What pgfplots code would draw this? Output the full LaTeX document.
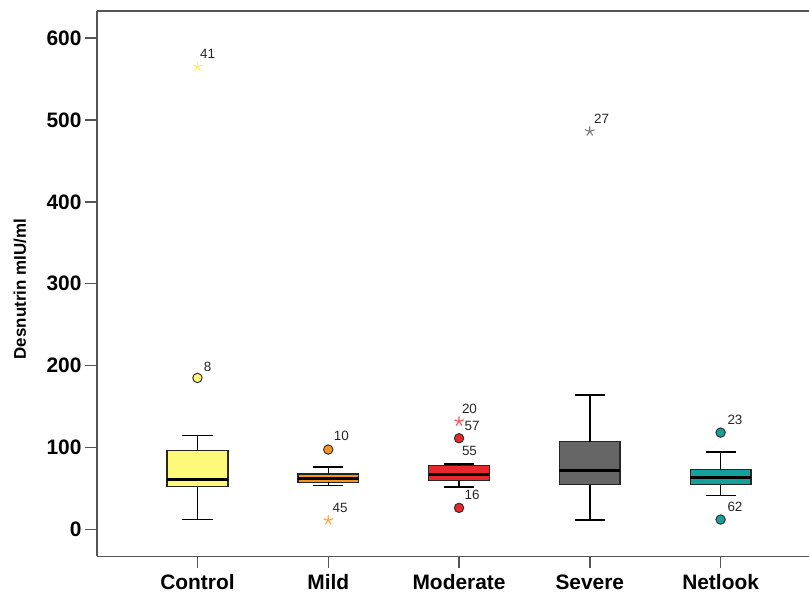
\documentclass[border=0pt]{standalone}
\usepackage{fontspec}
\setmainfont{Liberation Sans}
\usepackage{pgfplots}
\pgfplotsset{compat=1.18}
\definecolor{cctrl}{RGB}{255,249,122}
\definecolor{cmild}{RGB}{247,148,29}
\definecolor{cmod}{RGB}{232,40,44}
\definecolor{csev}{RGB}{102,102,102}
\definecolor{cnet}{RGB}{20,160,155}
\definecolor{axgray}{RGB}{85,85,85}
\begin{document}
\begin{tikzpicture}
\begin{axis}[
  scale only axis,
  width=713bp, height=546bp,
  xmin=-0.769, xmax=4.678,
  ymin=-32.9, ymax=632.9,
  axis x line*=bottom, axis y line*=left,
  axis line style={axgray, line width=1.5bp},
  tick style={axgray, line width=1.5bp},
  tick align=outside,
  major tick length=12bp,
  xtick={0,1,2,3,4},
  xticklabels={Control,Mild,Moderate,Severe,Netlook},
  ytick={0,100,200,300,400,500,600},
  /pgf/number format/assume math mode=true,
  tick label style={font=\bfseries\fontsize{21}{24}\selectfont},
  xticklabel style={yshift=-2.5bp},
  ylabel={Desnutrin mIU/ml},
  ylabel style={font=\bfseries\fontsize{17}{20}\selectfont, at={(axis description cs:-0.108,0.49)}, anchor=center},
  unbounded coords=jump,
]
% boxes (Q1 to Q3)
\addplot[fill=cctrl, draw=black!85, line width=1.4bp] coordinates {(-0.232,52.4) (0.232,52.4) (0.232,96.3) (-0.232,96.3)} -- cycle;
\addplot[fill=cmild, draw=black!85, line width=1.4bp] coordinates {(0.768,57.7) (1.232,57.7) (1.232,67.9) (0.768,67.9)} -- cycle;
\addplot[fill=cmod, draw=black!85, line width=1.4bp] coordinates {(1.768,59.8) (2.232,59.8) (2.232,78) (1.768,78)} -- cycle;
\addplot[fill=csev, draw=black!85, line width=1.4bp] coordinates {(2.768,54.9) (3.232,54.9) (3.232,107.3) (2.768,107.3)} -- cycle;
\addplot[fill=cnet, draw=black!85, line width=1.4bp] coordinates {(3.768,54.9) (4.232,54.9) (4.232,73.2) (3.768,73.2)} -- cycle;
% whiskers and caps
\addplot[black, line width=1.4bp, mark=none] coordinates {
 (0,96.3) (0,115) (0,nan) (-0.115,115) (0.115,115) (0,nan)
 (0,52.4) (0,12.2) (0,nan) (-0.115,12.2) (0.115,12.2) (0,nan)
 (1,67.9) (1,76.5) (1,nan) (0.885,76.5) (1.115,76.5) (1,nan)
 (1,57.7) (1,53.4) (1,nan) (0.885,53.4) (1.115,53.4) (1,nan)
 (2,78) (2,80.1) (2,nan) (1.885,80.1) (2.115,80.1) (2,nan)
 (2,59.8) (2,52) (2,nan) (1.885,52) (2.115,52) (2,nan)
 (3,107.3) (3,164.3) (3,nan) (2.885,164.3) (3.115,164.3) (3,nan)
 (3,54.9) (3,11.8) (3,nan) (2.885,11.8) (3.115,11.8) (3,nan)
 (4,73.2) (4,94.8) (4,nan) (3.885,94.8) (4.115,94.8) (4,nan)
 (4,54.9) (4,41.5) (4,nan) (3.885,41.5) (4.115,41.5)
};
% medians
\addplot[black, line width=3bp, mark=none] coordinates {
 (-0.232,61) (0.232,61) (0,nan)
 (0.768,62.6) (1.232,62.6) (1,nan)
 (1.768,67) (2.232,67) (2,nan)
 (2.768,72.3) (3.232,72.3) (3,nan)
 (3.768,63) (4.232,63)
};
% outlier circles
\addplot[only marks, mark=*, mark size=4.7bp, mark options={fill=cctrl, draw=black!80, line width=1bp}] coordinates {(0,185)};
\addplot[only marks, mark=*, mark size=4.7bp, mark options={fill=cmild, draw=black!80, line width=1bp}] coordinates {(1,97.6)};
\addplot[only marks, mark=*, mark size=4.7bp, mark options={fill=cmod, draw=black!80, line width=1bp}] coordinates {(2,111.4) (2,26.4)};
\addplot[only marks, mark=*, mark size=4.7bp, mark options={fill=cnet, draw=black!80, line width=1bp}] coordinates {(4,118.3) (4,12.2)};
% extreme stars
\addplot[only marks, mark=star, mark size=5bp, color=cctrl!90!orange, mark options={line width=1.2bp}] coordinates {(0,565)};
\addplot[only marks, mark=star, mark size=5bp, color=cmild!80!white, mark options={line width=1.2bp}] coordinates {(1,11.3)};
\addplot[only marks, mark=star, mark size=5bp, color=cmod!75!white, mark options={line width=1.2bp}] coordinates {(2,132)};
\addplot[only marks, mark=star, mark size=5bp, color=gray, mark options={line width=1.2bp}] coordinates {(3,486)};
% case labels
\addplot[draw=none, mark=none, nodes near coords, point meta=explicit symbolic,
  nodes near coords style={anchor=center, inner sep=0pt, font=\fontsize{13.5}{15}\selectfont, text=black!85}]
  table[meta=lab, row sep=\\] {
  x y lab \\
  0.078 580.5 41 \\
  0.078 198.8 8 \\
  1.10 114.6 10 \\
  1.09 26.8 45 \\
  2.08 147.6 20 \\
  2.10 126 57 \\
  2.08 96.3 55 \\
  2.10 42.7 16 \\
  3.09 501 27 \\
  4.11 134 23 \\
  4.11 27.2 62 \\
  };
\end{axis}
\pgfresetboundingbox
\path ([xshift=-97bp,yshift=-39bp]current axis.south west) rectangle ([yshift=11bp]current axis.north east);
\draw[axgray, line width=1.5bp] (current axis.north west) -- (current axis.north east);
\end{tikzpicture}
\end{document}
